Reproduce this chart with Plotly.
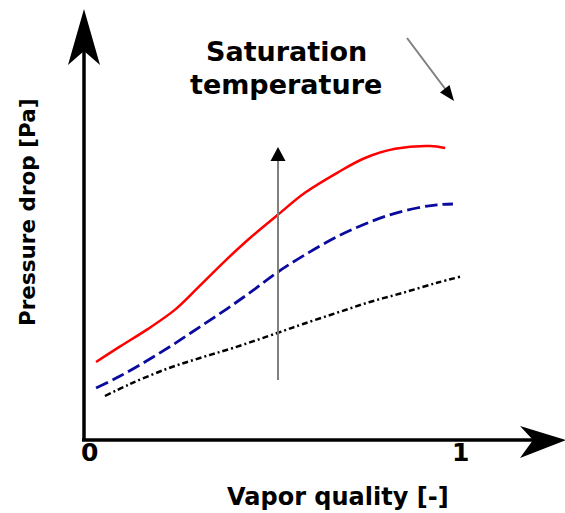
import plotly.graph_objects as go

# Vapor quality / pressure-drop curves (arbitrary pressure units, axis origin = 0)
quality_solid = [0.019, 0.084, 0.156, 0.232, 0.299, 0.367, 0.434, 0.509,
                 0.582, 0.669, 0.744, 0.825, 0.919, 0.960]
dp_solid = [0.195, 0.234, 0.276, 0.326, 0.386, 0.448, 0.505, 0.563,
            0.618, 0.668, 0.705, 0.728, 0.735, 0.730]

quality_dashed = [0.019, 0.084, 0.156, 0.226, 0.299, 0.372, 0.442, 0.509,
                  0.582, 0.668, 0.739, 0.811, 0.884, 0.938, 0.981]
dp_dashed = [0.130, 0.160, 0.198, 0.238, 0.283, 0.328, 0.374, 0.420,
             0.463, 0.508, 0.538, 0.563, 0.580, 0.588, 0.590]

quality_dashdot = [0.043, 0.111, 0.210, 0.299, 0.388, 0.509, 0.577, 0.668,
                   0.757, 0.846, 0.938, 1.000]
dp_dashdot = [0.110, 0.140, 0.178, 0.205, 0.230, 0.268, 0.290, 0.318,
              0.345, 0.368, 0.393, 0.408]

tick_values = [0, 1]
tick_labels = ["0", "1"]

# page geometry: data origin sits at pixel (89, 440); 371 px per unit in x, 400 in y
W, H = 565, 513
OX, OY, SX, SY = 89, 440, 371, 400


def dx(px):
    return (px - OX) / SX


def dy(py):
    return (OY - py) / SY


def path(points):
    return "M " + " L ".join(f"{dx(a):.5f},{dy(b):.5f}" for a, b in points) + " Z"


FONT = "DejaVu Sans"

fig = go.Figure()
fig.add_trace(go.Scatter(x=quality_dashdot, y=dp_dashdot, mode="lines",
                         line=dict(color="black", width=2.5, dash="6px,3px,2px,3px", shape="spline")))
fig.add_trace(go.Scatter(x=quality_dashed, y=dp_dashed, mode="lines",
                         line=dict(color="#0a0a9e", width=2.8, dash="13px,5px", shape="spline")))
fig.add_trace(go.Scatter(x=quality_solid, y=dp_solid, mode="lines",
                         line=dict(color="#ff0000", width=2.5, shape="spline")))

shapes = [
    # axes
    dict(type="line", x0=dx(84), y0=dy(440), x1=dx(84), y1=dy(50), line=dict(color="black", width=3.5)),
    dict(type="line", x0=dx(82), y0=dy(440), x1=dx(535), y1=dy(440), line=dict(color="black", width=3.5)),
    dict(type="path", path=path([(84, 9), (68, 65), (84, 51), (100, 65)]),
         fillcolor="black", line=dict(width=0)),
    dict(type="path", path=path([(566, 440), (520, 426), (533, 440), (520, 458)]),
         fillcolor="black", line=dict(width=0)),
    # vertical trend arrow
    dict(type="line", x0=dx(278), y0=dy(380), x1=dx(278), y1=dy(158), line=dict(color="#808080", width=2)),
    dict(type="path", path=path([(278, 147), (270.5, 161), (285.5, 161)]),
         fillcolor="black", line=dict(width=0)),
    # diagonal trend arrow
    dict(type="line", x0=dx(407), y0=dy(38), x1=dx(446), y1=dy(90), line=dict(color="#808080", width=2)),
    dict(type="path", path=path([(454, 101), (440, 92.5), (449.5, 85)]),
         fillcolor="black", line=dict(width=0)),
]

bold = dict(family=FONT, color="black")
annotations = []
for v, t in zip(tick_values, tick_labels):
    annotations.append(dict(x=v, y=dy(452), text=f"<b>{t}</b>", showarrow=False,
                            xanchor="center", yanchor="middle", font=dict(size=25, **bold)))
annotations += [
    dict(x=dx(338), y=dy(512), text="<b>Vapor quality [-]</b>", showarrow=False,
         xanchor="center", yanchor="bottom", borderpad=0, font=dict(size=24, **bold)),
    dict(x=dx(27), y=dy(212), text="<b>Pressure drop [Pa]</b>", showarrow=False, textangle=-90,
         xanchor="center", yanchor="middle", font=dict(size=21.5, **bold)),
    dict(x=dx(286), y=dy(51), text="<b>Saturation</b>", showarrow=False,
         xanchor="center", yanchor="middle", font=dict(size=27, **bold)),
    dict(x=dx(286), y=dy(84), text="<b>temperature</b>", showarrow=False,
         xanchor="center", yanchor="middle", font=dict(size=27, **bold)),
]

fig.update_layout(
    width=W, height=H,
    margin=dict(l=0, r=0, t=0, b=0),
    paper_bgcolor="white", plot_bgcolor="white",
    showlegend=False,
    xaxis=dict(range=[dx(0), dx(W)], visible=False, fixedrange=True),
    yaxis=dict(range=[dy(H), dy(0)], visible=False, fixedrange=True),
    shapes=shapes,
    annotations=annotations,
)

fig.write_html("out.html", config=dict(displayModeBar=False))
